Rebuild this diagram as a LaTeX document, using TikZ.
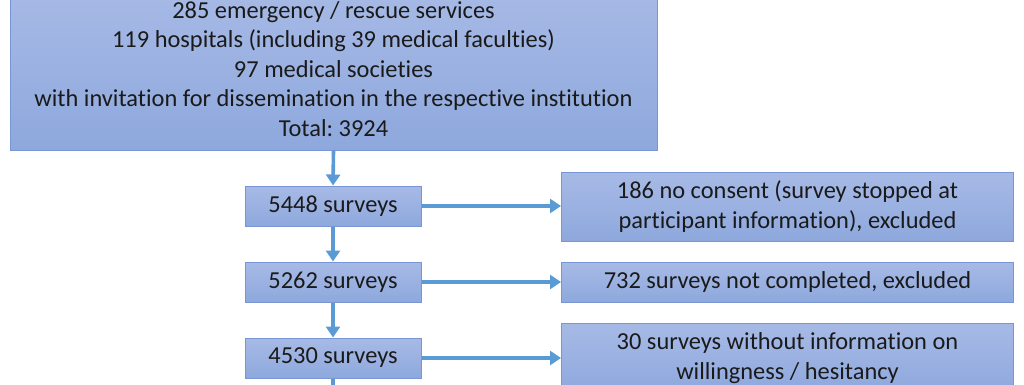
\documentclass[tikz,border=0pt]{standalone}
\usepackage{fontspec}
\setmainfont[Ligatures={NoCommon,NoRare}]{Carlito}
\frenchspacing
\usetikzlibrary{arrows.meta}
\definecolor{boxtop}{HTML}{A7BAE6}
\definecolor{boxbot}{HTML}{8EA8DD}
\definecolor{boxline}{HTML}{7896D4}
\definecolor{arrowc}{HTML}{5B9BD5}
\definecolor{txt}{HTML}{1A1A1A}
\tikzset{
  flowbox/.style={draw=boxline, line width=1pt, top color=boxtop, bottom color=boxbot,
    rectangle, inner sep=0pt, align=center, text=txt,
    font=\fontsize{24.4}{29.5}\selectfont},
  flowarrow/.style={draw=arrowc, line width=3.6pt, -{Triangle[length=11pt,width=14pt]}},
}
\begin{document}
\begin{tikzpicture}[x=1pt,y=-1pt]
\useasboundingbox (0,0) rectangle (1024,384);
\clip (0,0) rectangle (1024,384);
\fill[white] (0,0) rectangle (1024,384);
\node[flowbox, minimum width=647pt, minimum height=162pt] (top) at (333.5,69)
  {285 emergency / rescue services\\119 hospitals (including 39 medical faculties)\\97 medical societies\\with invitation for dissemination in the respective institution\\Total: 3924};
\node[flowbox, minimum width=176pt, minimum height=40pt] (s1) at (333,206) {5448 surveys};
\node[flowbox, minimum width=176pt, minimum height=40pt] (s2) at (333,282) {5262 surveys};
\node[flowbox, minimum width=176pt, minimum height=40pt] (s3) at (333,358) {4530 surveys};
\node[flowbox, minimum width=452pt, minimum height=69pt] (e1) at (787.5,206.5)
  {186 no consent (survey stopped at\\participant information), excluded};
\node[flowbox, minimum width=452pt, minimum height=40pt] (e2) at (787.5,282)
  {732 surveys not completed, excluded};
\node[flowbox, minimum width=452pt, minimum height=70pt] (e3) at (787.5,358)
  {30 surveys without information on\\willingness / hesitancy};
\coordinate (down) at (333,400);
\draw[flowarrow] (top.south) -- (s1.north);
\draw[flowarrow] (s1.south) -- (s2.north);
\draw[flowarrow] (s2.south) -- (s3.north);
\draw[draw=arrowc, line width=3.6pt] (s3.south) -- (down);
\draw[flowarrow] (s1.east) -- (s1.east -| e1.west);
\draw[flowarrow] (s2.east) -- (e2.west);
\draw[flowarrow] (s3.east) -- (s3.east -| e3.west);
\end{tikzpicture}
\end{document}
